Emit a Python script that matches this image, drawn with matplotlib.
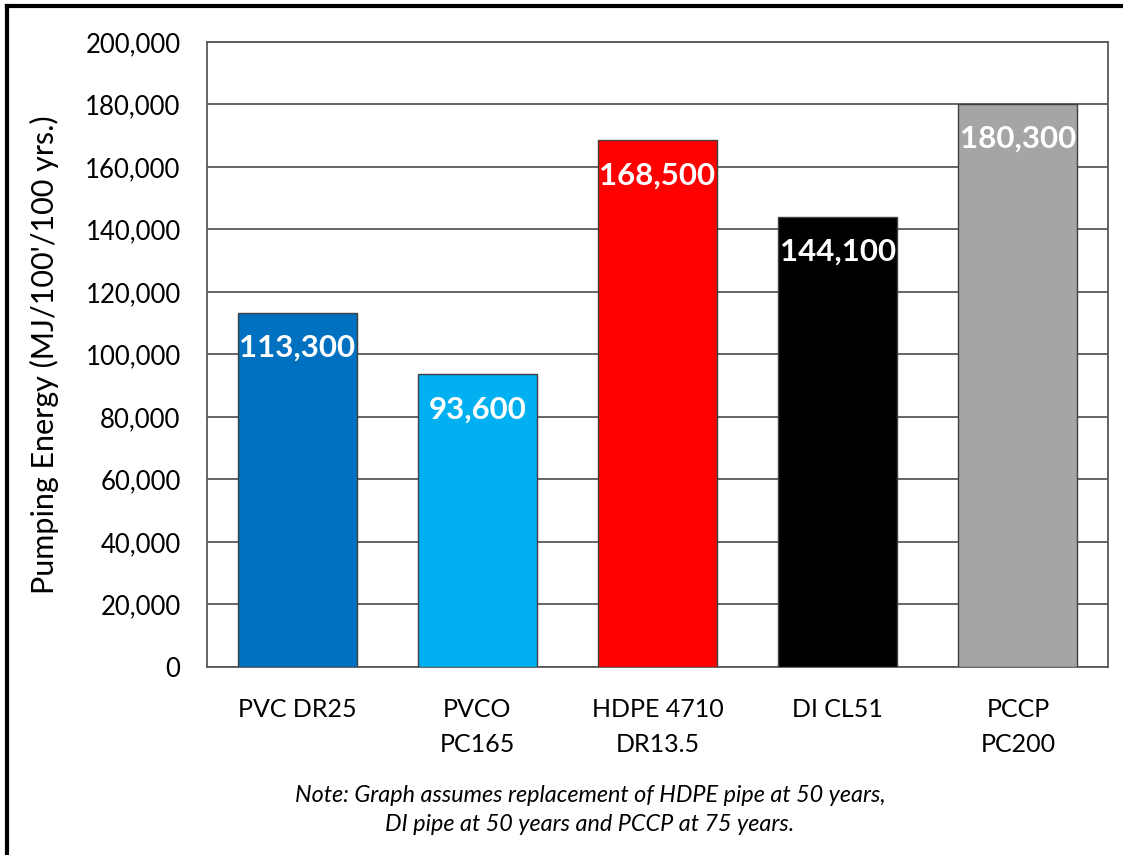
import matplotlib.pyplot as plt
from matplotlib.lines import Line2D

# Datos del grafico
categorias = ["PVC DR25", "PVCO\nPC165", "HDPE 4710\nDR13.5", "DI CL51", "PCCP\nPC200"]
energia = [113300, 93600, 168500, 144100, 180300]
colores = ["#0070C0", "#00B0F0", "#FF0000", "#000000", "#A5A5A5"]
y_ticks = list(range(0, 200001, 20000))

plt.rcParams['font.family'] = ['Lato', 'DejaVu Sans']

fig = plt.figure(figsize=(11.23, 8.55), dpi=100)
ax = fig.add_axes([207 / 1123, 1 - 667 / 855, 901 / 1123, 625 / 855])

x = range(len(categorias))
ax.bar(x, energia, width=0.66, color=colores, edgecolor="#404040", linewidth=1.0, zorder=3)

ax.set_xlim(-0.5, len(categorias) - 0.5)
ax.set_ylim(0, 200000)
ax.set_yticks(y_ticks)
ax.set_yticklabels([f"{v:,}" for v in y_ticks], fontsize=18.5)
ax.set_xticks(list(x))
ax.set_xticklabels(categorias, fontsize=18, linespacing=1.65, va="top")
ax.tick_params(axis="y", length=0, pad=19)
ax.tick_params(axis="x", length=0, pad=22)
ax.grid(axis="y", color="#595959", linewidth=1.3, zorder=0)
for s in ax.spines.values():
    s.set_color("#595959")
    s.set_linewidth(1.3)

ax.set_ylabel("Pumping Energy (MJ/100'/100 yrs.)", fontsize=22)
ax.yaxis.set_label_coords(-0.164, 0.5)

# Etiquetas de valor dentro de las barras
for i, v in enumerate(energia):
    ax.annotate(f"{v:,}", (i, v), xytext=(0, -25), textcoords="offset points",
                ha="center", va="center", color="white", fontsize=22.5, fontweight="bold", zorder=4)

fig.text(590 / 1123, 1 - 810 / 855,
         "Note: Graph assumes replacement of HDPE pipe at 50 years,\nDI pipe at 50 years and PCCP at 75 years.",
         ha="center", va="center", fontsize=16.8, style="italic", linespacing=1.5)

# Marco (solo izquierda y arriba visibles)
fig.add_artist(Line2D([7 / 1123, 7 / 1123], [0, 1 - 6 / 855], color="black", linewidth=3))
fig.add_artist(Line2D([7 / 1123, 1], [1 - 6 / 855, 1 - 6 / 855], color="black", linewidth=3))

fig.savefig("out.png", dpi=100)
